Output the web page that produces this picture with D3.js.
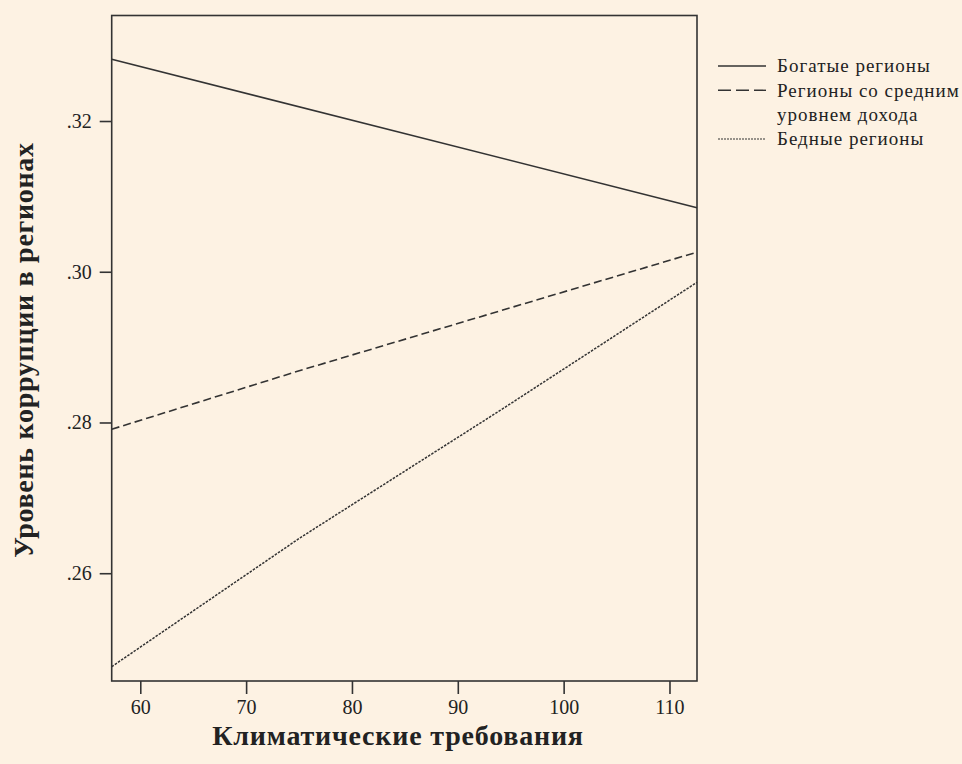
<!DOCTYPE html>
<html>
<head>
<meta charset="utf-8">
<script src="https://cdn.jsdelivr.net/npm/d3@7"></script>
<style>
  html, body { margin: 0; padding: 0; background: #fdf2e3; }
  svg { display: block; }
  text { font-family: "Liberation Serif", "DejaVu Serif", serif; fill: #222; }
</style>
</head>
<body>
<svg id="chart" width="962" height="764"></svg>
<script>
// values
var xDomain = [57.3, 112.6]
var yDomain = [0.2457, 0.334]
var xTicks = [60, 70, 80, 90, 100, 110]
var yTicks = [0.26, 0.28, 0.30, 0.32]

var richX = [57.3, 112.6]
var richY = [0.3282, 0.3085]
var midX = [57.3, 75.1, 112.6]
var midY = [0.2791, 0.2869, 0.3026]
var poorX = [57.3, 75.1, 94.0, 112.6]
var poorY = [0.2476, 0.2647, 0.2816, 0.2986]

var seriesNames = ["Богатые регионы", "Регионы со средним|уровнем дохода", "Бедные регионы"]
var xTitle = "Климатические требования"
var yTitle = "Уровень коррупции  в регионах"

var svg = d3.select("#chart")
var plotLeft = 111.7, plotRight = 697, plotTop = 15.5, plotBottom = 681

var xScale = d3.scaleLinear().domain(xDomain).range([plotLeft, plotRight])
var yScale = d3.scaleLinear().domain(yDomain).range([plotBottom, plotTop])

function pts(xs, ys) {
  return xs.map(function (x, i) { return [x, ys[i]] })
}

var series = [
  { data: pts(richX, richY), dash: null, width: 1.6 },
  { data: pts(midX, midY), dash: "8,4", width: 1.6 },
  { data: pts(poorX, poorY), dash: "2.5,1.3", width: 1.5 }
]

var line = d3.line()
  .x(function (d) { return xScale(d[0]) })
  .y(function (d) { return yScale(d[1]) })

var plot = svg.append("g")

plot.selectAll(".serie").data(series).enter().append("path")
  .attr("class", "serie")
  .attr("d", function (d) { return line(d.data) })
  .attr("fill", "none")
  .attr("stroke", "#333")
  .attr("stroke-width", function (d) { return d.width })
  .attr("stroke-dasharray", function (d) { return d.dash })

// frame
svg.append("rect")
  .attr("x", plotLeft).attr("y", plotTop)
  .attr("width", plotRight - plotLeft).attr("height", plotBottom - plotTop)
  .attr("fill", "none")
  .attr("stroke", "#333")
  .attr("stroke-width", 1.6)

var xAxis = d3.axisBottom(xScale).tickValues(xTicks).tickSize(13).tickSizeOuter(0)
  .tickFormat(d3.format("d"))
var gx = svg.append("g").attr("transform", "translate(0," + plotBottom + ")").call(xAxis)
gx.select(".domain").remove()
gx.selectAll("line").attr("stroke", "#333").attr("stroke-width", 1.6)
gx.selectAll("text")
  .attr("y", 33)
  .attr("dy", null)
  .style("font-size", "20px")
  .style("font-family", "Liberation Serif, serif")
  .attr("fill", "#333")

var yAxis = d3.axisLeft(yScale).tickValues(yTicks).tickSize(12).tickSizeOuter(0)
  .tickFormat(function (d) { return d3.format(".2f")(d).replace(/^0/, "") })
var gy = svg.append("g").attr("transform", "translate(" + plotLeft + ",0)").call(yAxis)
gy.select(".domain").remove()
gy.selectAll("line").attr("stroke", "#333").attr("stroke-width", 1.6)
gy.selectAll("text")
  .attr("x", -20)
  .style("font-size", "20px")
  .style("font-family", "Liberation Serif, serif")
  .attr("fill", "#333")

// axis titles
svg.append("text")
  .attr("x", 398).attr("y", 745)
  .attr("text-anchor", "middle")
  .style("font-size", "28px")
  .style("font-weight", "bold")
  .style("letter-spacing", "0.8px")
  .attr("fill", "#111")
  .text(xTitle)

svg.append("text")
  .attr("transform", "translate(33,350) rotate(-90)")
  .attr("text-anchor", "middle")
  .style("font-size", "28px")
  .style("font-weight", "bold")
  .style("letter-spacing", "0.7px")
  .attr("fill", "#111")
  .text(yTitle)

// legend
var legend = svg.append("g").attr("transform", "translate(718,66)")
var rowY = [0, 24.3, 73]
series.forEach(function (s, i) {
  legend.append("line")
    .attr("x1", 0).attr("x2", 48)
    .attr("y1", rowY[i]).attr("y2", rowY[i])
    .attr("stroke", "#333")
    .attr("stroke-width", i == 2 ? 1.2 : 1.4)
    .attr("stroke-dasharray", i == 1 ? "13,5" : (i == 2 ? "2,1" : null))
  seriesNames[i].split("|").forEach(function (part, j) {
    legend.append("text")
      .attr("x", 59).attr("y", rowY[i] + j * 24.3)
      .attr("dy", "0.33em")
      .style("font-size", "19px")
      .style("letter-spacing", "1px")
      .text(part)
  })
})
</script>
</body>
</html>
